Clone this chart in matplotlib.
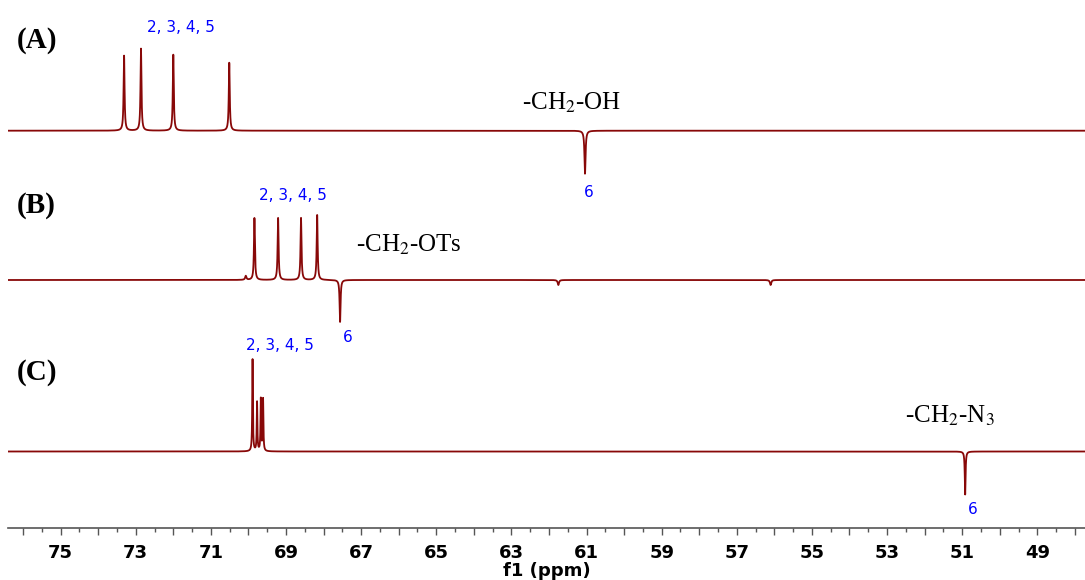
import numpy as np
import matplotlib
matplotlib.use("Agg")
import matplotlib.pyplot as plt
from matplotlib.ticker import MultipleLocator

plt.rcParams["mathtext.fontset"] = "stix"

# Peak lists (chemical shift in ppm, signed intensity, FWHM in ppm)
shift_a = [73.31, 72.86, 72.00, 70.51, 61.04]
inten_a = [75, 82, 76, 68, -43]
width_a = [0.03, 0.03, 0.03, 0.03, 0.035]

shift_b = [70.07, 69.84, 69.21, 68.60, 68.17, 67.56, 61.75, 56.10]
inten_b = [4, 62, 62, 62, 65, -42, -5, -5]
width_b = [0.04, 0.03, 0.03, 0.03, 0.03, 0.03, 0.04, 0.04]

shift_c = [69.89, 69.77, 69.67, 69.61, 50.92]
inten_c = [92, 49, 52, 52, -43]
width_c = [0.02, 0.02, 0.02, 0.02, 0.025]

panel_names = ["(A)", "(B)", "(C)"]
group_labels = ["2, 3, 4, 5", "2, 3, 4, 5", "2, 3, 4, 5"]
ch2_labels = [r"-CH$_2$-OH", r"-CH$_2$-OTs", r"-CH$_2$-N$_3$"]

W, H = 1085, 580
ppm = np.linspace(76.5, 47.6, 40000)


def spectrum(shifts, intens, widths):
    y = np.zeros_like(ppm)
    for s, h, w in zip(shifts, intens, widths):
        g = (w / 2) ** 2
        y += h * g / ((ppm - s) ** 2 + g)
    return y


def at(x, y):
    """Figure-fraction position from pixel coordinates (origin top-left)."""
    return x / W, 1 - y / H


fig = plt.figure(figsize=(W / 100, H / 100), dpi=100)
ax = fig.add_axes([8 / W, 52.3 / H, 1 - 8 / W, 527.7 / H])
ax.set_xlim(76.40, 47.73)
ax.set_ylim(0, 527.7)

line_color = "#880808"
offsets = [397.0, 247.7, 76.2]
for off, (s, h, w) in zip(offsets, [(shift_a, inten_a, width_a),
                                    (shift_b, inten_b, width_b),
                                    (shift_c, inten_c, width_c)]):
    ax.plot(ppm, spectrum(s, h, w) + off, color=line_color, lw=1.3)

serif = ["Liberation Serif", "DejaVu Serif"]
blue = "#0000ff"

# Panel letters
for name, yy in zip(panel_names, [40, 206, 373]):
    fig.text(*at(17, yy), name, fontsize=21, fontweight="bold", family=serif,
             ha="left", va="center")

# Ring carbon labels
for lbl, pos in zip(group_labels, [(180.5, 27), (293, 195.3), (280, 345.8)]):
    fig.text(*at(*pos), lbl, fontsize=11, color=blue, ha="center", va="center")
for pos in [(588.3, 192.5), (347.7, 337.5), (972.3, 509.2)]:
    fig.text(*at(*pos), "6", fontsize=11, color=blue, ha="center", va="center")

# Methylene group labels
for lbl, pos in zip(ch2_labels, [(521.5, 103.3), (356, 245), (905, 416)]):
    fig.text(*at(*pos), lbl, fontsize=18, family=serif, ha="left", va="center")

# Axis styling: only the bottom ppm axis is shown
for side in ["left", "right", "top"]:
    ax.spines[side].set_visible(False)
ax.spines["bottom"].set_color("#555555")
ax.spines["bottom"].set_linewidth(1.2)
ax.set_yticks([])
ax.xaxis.set_major_locator(MultipleLocator(1))
ax.xaxis.set_minor_locator(MultipleLocator(0.5))
ax.xaxis.set_major_formatter(plt.FuncFormatter(
    lambda v, p: f"{int(round(v))}" if int(round(v)) % 2 == 1 else ""))
ax.tick_params(axis="x", which="major", length=5, width=1, color="#555555",
               labelsize=13, pad=7)
ax.tick_params(axis="x", which="minor", length=3, width=1, color="#555555")
for t in ax.get_xticklabels():
    t.set_fontweight("bold")
ax.set_xlabel("f1 (ppm)", fontsize=13, fontweight="bold", labelpad=-0.5)

fig.savefig("out.png", dpi=100)
